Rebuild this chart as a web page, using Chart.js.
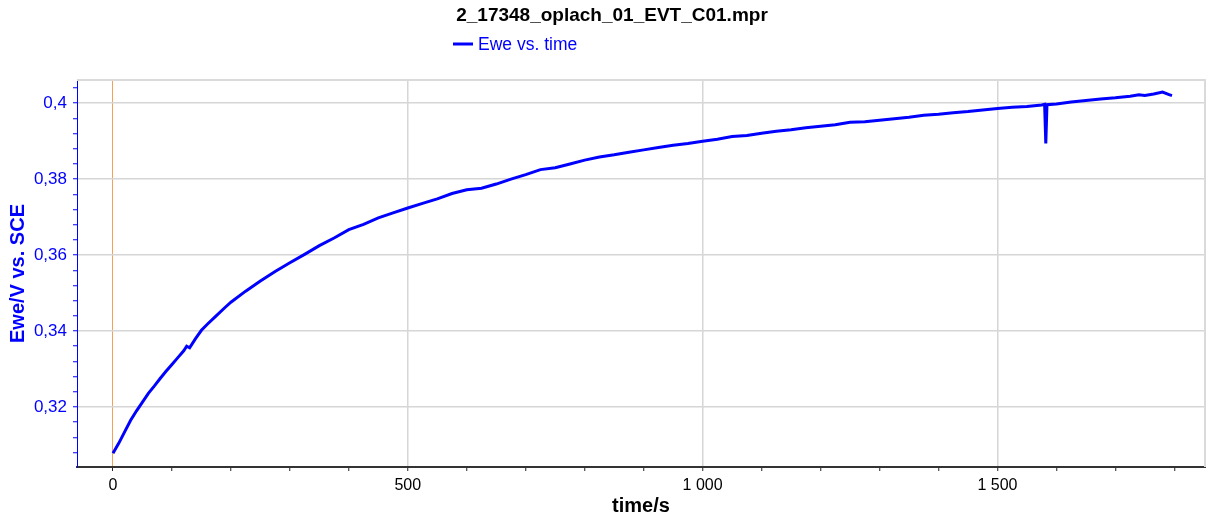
<!DOCTYPE html>
<html>
<head>
<meta charset="utf-8">
<title>2_17348_oplach_01_EVT_C01.mpr</title>
<script src="https://cdn.jsdelivr.net/npm/chart.js"></script>
<style>
  html, body { margin: 0; padding: 0; background: #fff; }
  #wrap { width: 1213px; height: 518px; }
</style>
</head>
<body>
<div id="wrap"><canvas id="chart" width="1213" height="518"></canvas></div>
<script>
const chartTitle = '2_17348_oplach_01_EVT_C01.mpr';
const seriesName = 'Ewe vs. time';
const xTitle = 'time/s';
const yTitle = 'Ewe/V vs. SCE';

// time in s
const times = [
  0, 10, 20, 30, 40, 50, 60, 70, 80, 90, 100, 110, 120, 125, 130, 140, 150, 160, 175, 190,
  200, 225, 250, 275, 300, 325, 350, 375, 400, 425, 450, 475, 500, 525, 550, 575, 600, 625,
  650, 675, 700, 725, 750, 775, 800, 825, 850, 875, 900, 925, 950, 975, 1000, 1025, 1050,
  1075, 1100, 1125, 1150, 1175, 1200, 1225, 1250, 1275, 1300, 1325, 1350, 1375, 1400, 1425,
  1450, 1475, 1500, 1525, 1550, 1575, 1580, 1582, 1584, 1600, 1625, 1650, 1675, 1700, 1725,
  1740, 1750, 1765, 1780, 1790, 1796
];
// Ewe in V vs. SCE
const ewe = [
  0.3078, 0.3105, 0.3135, 0.3165, 0.3190, 0.3213, 0.3236, 0.3255, 0.3275, 0.3294, 0.3312,
  0.3330, 0.3348, 0.3360, 0.3356, 0.3380, 0.3402, 0.3418, 0.3440, 0.3462,
  0.3476, 0.3505, 0.3532, 0.3557, 0.3580, 0.3602, 0.3625, 0.3645, 0.3667, 0.3681, 0.3698,
  0.3711, 0.3724, 0.3736, 0.3748, 0.3762, 0.3772, 0.3776,
  0.3787, 0.3800, 0.3812, 0.3825, 0.3830, 0.3840, 0.3850, 0.3858, 0.3864, 0.3871, 0.3877,
  0.3883, 0.3889, 0.3894, 0.3900, 0.3905, 0.3912,
  0.3915, 0.3921, 0.3926, 0.3930, 0.3935, 0.3939, 0.3943, 0.3950, 0.3951, 0.3955, 0.3959,
  0.3963, 0.3968, 0.3971, 0.3975,
  0.3978, 0.3982, 0.3986, 0.3989, 0.3991, 0.3995, 0.3997, 0.3894, 0.3996, 0.3998, 0.4003,
  0.4007, 0.4011, 0.4014, 0.4018,
  0.4022, 0.4020, 0.4024, 0.4029, 0.4023, 0.4020
];

const xLabelTicks = [0, 500, 1000, 1500];
const yLabelTicks = [0.32, 0.34, 0.36, 0.38, 0.4];

const BLUE = '#0000ff';
const GRID = '#d6d6d6';
const ORANGE = '#f2a05a';
const FONT = '"Liberation Sans", Arial, sans-serif';

function isIn(list, v) {
  return list.some(t => Math.abs(t - v) < 1e-7);
}

const headerPlugin = {
  id: 'header',
  beforeDatasetsDraw(chart) {
    const {ctx, chartArea: a} = chart;
    ctx.save();
    ctx.strokeStyle = '#dadada';
    ctx.lineWidth = 2;
    ctx.beginPath();
    ctx.moveTo(a.left, a.top);
    ctx.lineTo(a.right, a.top);
    ctx.lineTo(a.right, a.bottom);
    ctx.stroke();
    ctx.restore();
  },
  afterDraw(chart) {
    const ctx = chart.ctx;
    ctx.save();
    ctx.fillStyle = '#000';
    ctx.font = 'bold 19px ' + FONT;
    ctx.textAlign = 'center';
    ctx.textBaseline = 'middle';
    ctx.fillText(chartTitle, 612, 16);
    ctx.strokeStyle = BLUE;
    ctx.lineWidth = 3;
    ctx.beginPath();
    ctx.moveTo(453, 44);
    ctx.lineTo(473, 44);
    ctx.stroke();
    ctx.fillStyle = BLUE;
    ctx.font = '17.5px ' + FONT;
    ctx.textAlign = 'left';
    ctx.fillText(seriesName, 478, 45);
    ctx.restore();
  }
};

new Chart(document.getElementById('chart'), {
  type: 'line',
  data: {
    datasets: [{
      label: seriesName,
      data: times.map((t, i) => ({x: t, y: ewe[i]})),
      borderColor: BLUE,
      borderWidth: 3,
      pointRadius: 0,
      tension: 0,
      fill: false
    }]
  },
  options: {
    responsive: false,
    animation: false,
    layout: {padding: {top: 80, right: 8, left: 0, bottom: 0}},
    plugins: {legend: {display: false}, title: {display: false}, tooltip: {enabled: false}},
    scales: {
      x: {
        type: 'linear',
        min: -61,
        max: 1852,
        afterFit(scale) { scale.height = 51; },
        border: {color: '#333', width: 2},
        grid: {
          color: c => c.tick && Math.abs(c.tick.value) < 1e-7 ? ORANGE : (c.tick && isIn(xLabelTicks, c.tick.value) ? GRID : 'rgba(0,0,0,0)'),
          lineWidth: c => c.tick && Math.abs(c.tick.value) < 1e-7 ? 1 : 1.5,
          tickColor: '#222',
          tickLength: 4,
          tickWidth: 1
        },
        ticks: {
          stepSize: 100,
          includeBounds: false,
          autoSkip: false,
          maxRotation: 0,
          padding: 5,
          color: '#000',
          font: {family: FONT, size: 16},
          callback: v => isIn(xLabelTicks, v) ? String(Math.round(v)).replace(/\B(?=(\d{3})+(?!\d))/g, ' ') : ''
        },
        title: {
          display: true,
          text: xTitle,
          color: '#000',
          font: {family: FONT, size: 20, weight: 'bold'},
          padding: {top: 0, bottom: 0}
        }
      },
      y: {
        type: 'linear',
        min: 0.3042,
        max: 0.4061,
        afterFit(scale) { scale.width = 77; },
        border: {color: BLUE, width: 1},
        grid: {
          color: c => c.tick && isIn(yLabelTicks, c.tick.value) ? GRID : 'rgba(0,0,0,0)',
          lineWidth: 1.5,
          tickColor: BLUE,
          tickLength: 4,
          tickWidth: 1
        },
        ticks: {
          stepSize: 0.004,
          includeBounds: false,
          autoSkip: false,
          padding: 6,
          color: BLUE,
          font: {family: FONT, size: 17},
          callback: v => isIn(yLabelTicks, v) ? String(parseFloat(v.toFixed(3))).replace('.', ',') : ''
        },
        title: {
          display: true,
          text: yTitle,
          color: BLUE,
          font: {family: FONT, size: 20, weight: 'bold'},
          padding: {top: 6, bottom: 0}
        }
      }
    }
  },
  plugins: [headerPlugin]
});
</script>
</body>
</html>
